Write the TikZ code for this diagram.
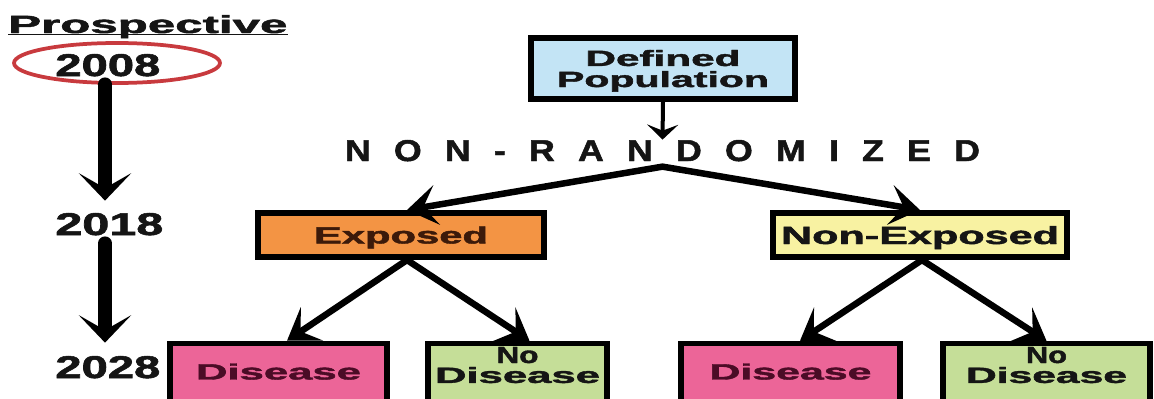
\documentclass[tikz,border=0pt]{standalone}
\usepackage{fontspec}
\setmainfont{Liberation Sans}[BoldFeatures={FakeBold=1.6}]
\usetikzlibrary{arrows.meta}

\newlength{\pxu}
\setlength{\pxu}{0.02cm}
\newcommand{\fitted}[3]{\resizebox{#1\pxu}{#2\pxu}{#3}}
\newcommand{\gap}{\hspace{0.65em}}

\definecolor{ink}{HTML}{151515}
\definecolor{popblue}{HTML}{C3E4F5}
\definecolor{expo}{HTML}{F39444}
\definecolor{expotext}{HTML}{3C1A0A}
\definecolor{nonexpo}{HTML}{F8F2A2}
\definecolor{sick}{HTML}{EC6598}
\definecolor{sicktext}{HTML}{4B0C26}
\definecolor{well}{HTML}{C5DE98}
\definecolor{ringred}{HTML}{C83A3E}

\tikzset{
  >={Stealth[length=0.6cm,width=0.8cm,inset=0.27cm]},
  txt/.style={inner sep=0pt, font=\bfseries, text=ink},
  box/.style={draw=black, line width=0.11cm, inner sep=0pt, text depth=0pt,
    font=\bfseries, text=ink, align=center},
  lowbox/.style={box, anchor=north, text depth=1.2cm,
    font=\bfseries\fontsize{9}{10.2}\selectfont},
  branch/.style={line width=0.13cm, <->},
  timeline/.style={line width=0.27cm, line cap=round,
    -{Stealth[length=0.55cm,width=1.05cm,inset=0.3cm]}},
}

\begin{document}
\begin{tikzpicture}[x=0.02cm,y=-0.02cm]
\useasboundingbox (0,0) rectangle (1154,399);
\clip (0,0) rectangle (1154,399);

% time axis on the left
\node[txt, anchor=base west] (pros) at (8,33) {\fitted{279}{18}{Prospective}};
\draw[ink, line width=0.04cm] ([yshift=-0.03cm]pros.base west) -- ([yshift=-0.03cm]pros.base east);
\node[txt, anchor=base west] (y2008) at (55,76) {\fitted{105}{22}{2008}};
\node[txt, anchor=base west] (y2018) at (55,235) {\fitted{108}{22}{2018}};
\node[txt, anchor=base west] (y2028) at (55,378) {\fitted{105}{22}{2028}};
\draw[ringred, line width=0.075cm] (117,63) ellipse [x radius=103, y radius=20];
\coordinate (axis) at (105,0);
\draw[timeline, shorten <=0.15cm, shorten >=0.24cm] (y2008.south -| axis) -- (y2018.north -| axis);
\draw[timeline, shorten <=0.15cm, shorten >=0.26cm] (y2018.south -| axis) -- (y2028.north -| axis);

% population and split
\node[box, fill=popblue, minimum width=5.29cm, minimum height=1.23cm,
  font=\bfseries\fontsize{10}{12}\selectfont] (pop) at (663,68.5)
  {\fitted{155}{16}{Defined}\\\fitted{212}{16}{Population}};
\node[txt, anchor=base] (nonr) at (662.5,161)
  {\fitted{635}{21}{N\gap O\gap N\gap -\gap R\gap A\gap N\gap D\gap O\gap M\gap I\gap Z\gap E\gap D}};
\coordinate (split) at ([yshift=-0.1cm]nonr.south);
\draw[line width=0.08cm, -{Stealth[length=0.3cm,width=0.62cm,inset=0.12cm]}] (pop.south) -- (nonr.north);

% groups
\node[box, fill=expo, text=expotext, minimum width=5.73cm, minimum height=0.89cm] (exp) at (401,235) {\fitted{174}{17}{Exposed}};
\node[box, fill=nonexpo, minimum width=5.89cm, minimum height=0.89cm] (nexp) at (920,235) {\fitted{278}{18}{Non-Exposed}};

% outcomes
\node[lowbox, fill=sick, text=sicktext, inner ysep=0.4cm, minimum width=4.35cm] (dis1) at (278.5,340.75) {\fitted{165}{16}{Disease}};
\node[lowbox, fill=well, inner ysep=0.07cm, minimum width=3.59cm] (nod1) at (517.5,340.75) {\fitted{42}{16}{No}\\[0.04cm]\fitted{165}{16}{Disease}};
\node[lowbox, fill=sick, text=sicktext, inner ysep=0.4cm, minimum width=4.39cm] (dis2) at (790.5,340.75) {\fitted{162}{16}{Disease}};
\node[lowbox, fill=well, inner ysep=0.07cm, minimum width=4.15cm] (nod2) at (1046.5,340.75) {\fitted{41}{16}{No}\\[0.04cm]\fitted{161}{16}{Disease}};

\draw[branch] ([xshift=0.12cm]exp.north) -- (split) -- (nexp.north);
\draw[branch] ([xshift=0.17cm]dis1.north) -- ([xshift=0.12cm]exp.south) -- ([xshift=0.24cm]nod1.north);
\draw[branch] ([xshift=0.19cm]dis2.north) -- ([xshift=0.04cm]nexp.south) -- (nod2.north);
\end{tikzpicture}
\end{document}
